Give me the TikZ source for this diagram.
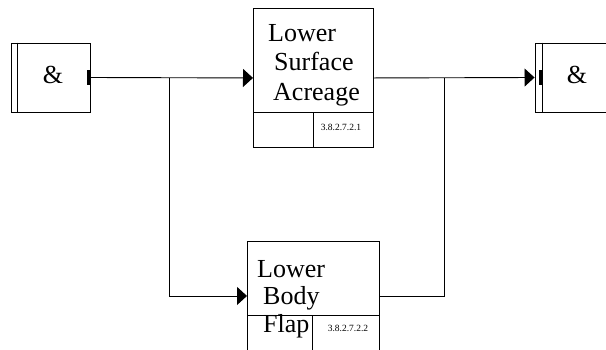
\documentclass[tikz,border=0pt]{standalone}
\usepackage{fontspec}
\setmainfont{Liberation Serif}
\usetikzlibrary{arrows.meta,positioning}

\begin{document}
\begin{tikzpicture}[
  x=1pt,y=-1pt,
  wire/.style={line width=0.9pt},
  gatebox/.style={draw,line width=0.9pt,minimum width=79pt,minimum height=69pt,inner sep=0pt},
  procbox/.style={draw,line width=0.9pt,anchor=north west,inner sep=0pt},
  lbl/.style={align=left,inner sep=0pt,anchor=north west,font=\fontsize{26}{29.5}\selectfont},
  num/.style={inner sep=0pt,font=\fontsize{9.5}{11}\selectfont},
  amp/.style={inner sep=0pt,font=\fontsize{26}{29}\selectfont},
  arr/.style={-{Triangle[length=10pt,width=18pt]},line width=0.9pt}
]
  \clip (0,0) rectangle (606,349);
  % gates
  \node[gatebox] (lft) at (50.5,77.5) {};
  \node[gatebox] (rgt) at (574.5,77.5) {};
  \draw[wire] ([xshift=7pt]lft.north west) -- ([xshift=7pt]lft.south west);
  \draw[wire] ([xshift=8pt]rgt.north west) -- ([xshift=8pt]rgt.south west);
  \node[amp] (lftamp) at ([xshift=2.5pt,yshift=3pt]lft.center) {\&};
  \node[amp] (rgtamp) at ([xshift=2.5pt,yshift=3pt]rgt.center) {\&};
  \fill ([xshift=-3.5pt,yshift=7.5pt]lft.east) rectangle ([yshift=-7.5pt]lft.east);
  \fill ([xshift=4pt,yshift=7.5pt]rgt.west) rectangle ([xshift=7.5pt,yshift=-7.5pt]rgt.west);
  % processes
  \node[procbox,minimum width=120pt,minimum height=139pt] (top) at (253,8) {};
  \draw[wire] ([yshift=35pt]top.south west) -- ([yshift=35pt]top.south east);
  \draw[wire] ([xshift=60pt,yshift=35pt]top.south west) -- ([xshift=60pt]top.south west);
  \node[lbl] (toptxt) at ([xshift=15pt,yshift=-16pt]top.north west) {Lower\\\hspace{6pt}Surface\\\hspace{5pt}Acreage};
  \node[num] (topnum) at ([xshift=88pt,yshift=20.5pt]top.south west) {3.8.2.7.2.1};
  \node[procbox,minimum width=132pt,minimum height=109pt] (bot) at (247,241) {};
  \draw[wire] ([yshift=35pt]bot.south west) -- ([yshift=35pt]bot.south east);
  \draw[wire] ([xshift=65pt,yshift=35pt]bot.south west) -- ([xshift=65pt]bot.south west);
  \node[lbl,font=\fontsize{26}{27.5}\selectfont] (bottxt) at ([xshift=10pt,yshift=-19pt]bot.north west) {Lower\\\hspace{6pt}Body\\\hspace{6pt}Flap};
  \node[num] (botnum) at ([xshift=101pt,yshift=22pt]bot.south west) {3.8.2.7.2.2};
  % connectors
  \coordinate (split) at (169,77.5);
  \coordinate (merge) at (444,77.5);
  \draw[arr] (lft.east) -- (top.west);
  \draw[arr] (split) |- (bot.west);
  \draw[arr] (top.east) -- (rgt.west);
  \draw[wire] (bot.east) -| (merge);
\end{tikzpicture}
\end{document}
